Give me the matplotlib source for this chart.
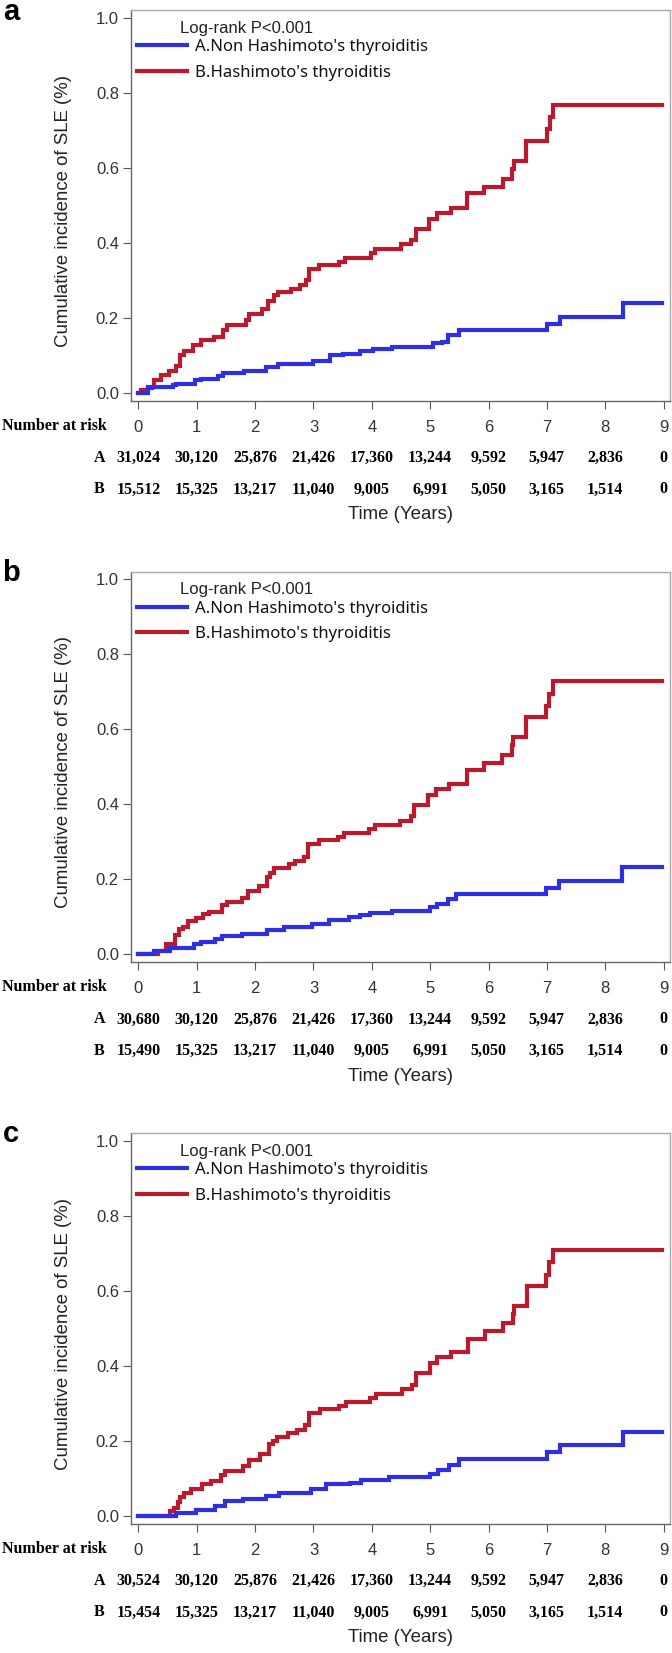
import matplotlib
matplotlib.use('Agg')
import matplotlib.pyplot as plt
from matplotlib.transforms import blended_transform_factory
from matplotlib.font_manager import FontProperties

# ---------------- data ----------------
years = [0, 1, 2, 3, 4, 5, 6, 7, 8, 9]
panel_letters = ['a', 'b', 'c']
logrank_text = 'Log-rank P<0.001'
label_A = "A.Non Hashimoto's thyroiditis"
label_B = "B.Hashimoto's thyroiditis"
ylabel_text = 'Cumulative incidence of SLE (%)'
xlabel_text = 'Time (Years)'
yticks = [0.0, 0.2, 0.4, 0.6, 0.8, 1.0]

# panel a
a_red_t = [0, 0.05, 0.16, 0.27, 0.38, 0.53, 0.64, 0.71, 0.79, 0.93, 1.08, 1.30, 1.45, 1.52, 1.85, 1.89,
           2.12, 2.22, 2.33, 2.40, 2.62, 2.77, 2.88, 2.93, 3.10, 3.43, 3.54, 3.98, 4.06, 4.50, 4.68, 4.75,
           4.98, 5.12, 5.35, 5.64, 5.93, 6.24, 6.41, 6.43, 6.65, 7.00, 7.06, 7.10, 8.98]
a_red_v = [0, 0.008, 0.015, 0.033, 0.046, 0.058, 0.07, 0.10, 0.111, 0.126, 0.141, 0.148, 0.166, 0.18, 0.193,
           0.209, 0.224, 0.245, 0.26, 0.268, 0.277, 0.286, 0.30, 0.33, 0.34, 0.348, 0.36, 0.371, 0.382, 0.395,
           0.408, 0.435, 0.464, 0.479, 0.493, 0.531, 0.547, 0.569, 0.595, 0.617, 0.67, 0.704, 0.735, 0.766, 0.766]
a_blue_t = [0, 0.16, 0.24, 0.60, 0.64, 0.97, 1.08, 1.37, 1.45, 1.81, 2.18, 2.40, 2.99, 3.28, 3.51, 3.80,
            4.02, 4.35, 5.05, 5.20, 5.30, 5.49, 7.00, 7.22, 8.30, 8.98]
a_blue_v = [0, 0.011, 0.015, 0.019, 0.024, 0.033, 0.037, 0.043, 0.052, 0.058, 0.067, 0.075, 0.084, 0.10,
            0.104, 0.11, 0.115, 0.122, 0.131, 0.135, 0.153, 0.166, 0.184, 0.202, 0.239, 0.239]
a_risk_A = ['31,024', '30,120', '25,876', '21,426', '17,360', '13,244', '9,592', '5,947', '2,836', '0']
a_risk_B = ['15,512', '15,325', '13,217', '11,040', '9,005', '6,991', '5,050', '3,165', '1,514', '0']

# panel b
b_red_t = [0, 0.33, 0.48, 0.63, 0.70, 0.77, 0.85, 0.99, 1.10, 1.21, 1.43, 1.51, 1.77, 1.88, 2.06, 2.21,
           2.26, 2.32, 2.58, 2.69, 2.83, 2.91, 3.09, 3.42, 3.53, 3.95, 4.05, 4.49, 4.67, 4.73, 4.97, 5.10,
           5.33, 5.63, 5.92, 6.23, 6.40, 6.42, 6.64, 6.99, 7.04, 7.10, 8.98]
b_red_v = [0, 0.009, 0.026, 0.05, 0.066, 0.073, 0.087, 0.097, 0.106, 0.113, 0.13, 0.139, 0.149, 0.168,
           0.182, 0.205, 0.215, 0.23, 0.239, 0.249, 0.258, 0.293, 0.303, 0.312, 0.322, 0.334, 0.343, 0.356,
           0.367, 0.398, 0.424, 0.441, 0.454, 0.491, 0.51, 0.53, 0.557, 0.578, 0.633, 0.661, 0.694, 0.728, 0.728]
b_blue_t = [0, 0.26, 0.55, 0.96, 1.07, 1.32, 1.43, 1.77, 2.21, 2.50, 2.98, 3.27, 3.61, 3.79, 3.97, 4.34,
            5.00, 5.11, 5.30, 5.45, 6.99, 7.21, 8.29, 8.98]
b_blue_v = [0, 0.009, 0.016, 0.026, 0.032, 0.04, 0.047, 0.054, 0.064, 0.071, 0.08, 0.092, 0.10, 0.104,
            0.109, 0.116, 0.125, 0.133, 0.147, 0.16, 0.177, 0.196, 0.232, 0.232]
b_risk_A = ['30,680', '30,120', '25,876', '21,426', '17,360', '13,244', '9,592', '5,947', '2,836', '0']
b_risk_B = ['15,490', '15,325', '13,217', '11,040', '9,005', '6,991', '5,050', '3,165', '1,514', '0']

# panel c
c_red_t = [0, 0.54, 0.61, 0.68, 0.72, 0.79, 0.90, 1.09, 1.24, 1.42, 1.49, 1.79, 1.90, 2.08, 2.23, 2.30,
           2.38, 2.56, 2.71, 2.85, 2.93, 3.11, 3.44, 3.55, 3.97, 4.07, 4.51, 4.69, 4.75, 4.99, 5.12, 5.35,
           5.65, 5.94, 6.25, 6.42, 6.44, 6.66, 6.99, 7.04, 7.10, 8.98]
c_red_v = [0, 0.011, 0.021, 0.035, 0.05, 0.059, 0.071, 0.083, 0.093, 0.107, 0.119, 0.131, 0.148, 0.164,
           0.19, 0.2, 0.209, 0.219, 0.228, 0.241, 0.274, 0.284, 0.293, 0.303, 0.314, 0.325, 0.338, 0.349,
           0.379, 0.406, 0.422, 0.436, 0.472, 0.491, 0.513, 0.537, 0.559, 0.613, 0.642, 0.677, 0.709, 0.709]
c_blue_t = [0, 0.65, 0.98, 1.31, 1.49, 1.79, 2.19, 2.41, 2.96, 3.22, 3.63, 3.81, 4.29, 4.99, 5.13, 5.32,
            5.49, 7.01, 7.23, 8.31, 8.98]
c_blue_v = [0, 0.007, 0.016, 0.026, 0.038, 0.045, 0.053, 0.059, 0.072, 0.083, 0.088, 0.096, 0.104, 0.112,
            0.121, 0.136, 0.152, 0.169, 0.188, 0.224, 0.224]
c_risk_A = ['30,524', '30,120', '25,876', '21,426', '17,360', '13,244', '9,592', '5,947', '2,836', '0']
c_risk_B = ['15,454', '15,325', '13,217', '11,040', '9,005', '6,991', '5,050', '3,165', '1,514', '0']

panels = [
    (a_red_t, a_red_v, a_blue_t, a_blue_v, a_risk_A, a_risk_B),
    (b_red_t, b_red_v, b_blue_t, b_blue_v, b_risk_A, b_risk_B),
    (c_red_t, c_red_v, c_blue_t, c_blue_v, c_risk_A, c_risk_B),
]

# ---------------- style ----------------
W, H = 672, 1653
BLUE = '#2e2ee3'
RED = '#bb1a2e'
SANS = ['Liberation Sans', 'DejaVu Sans']
SERIF = ['Liberation Serif', 'DejaVu Serif']
LEGEND_FONT = ['Noto Sans', 'DejaVu Sans']

fig = plt.figure(figsize=(W / 100, H / 100), dpi=100)

ax_left, ax_right = 130.7, 669.5
x0_px, px_per_year = 138.4, 58.35
ax_h = 390.7
zero_rows = [392.5, 954.0, 1515.5]   # pixel row of each panel's 0.0 tick

for i, (rt, rv, bt, bv, riskA, riskB) in enumerate(panels):
    y_zero = zero_rows[i]
    bottom_px = y_zero + 8.4
    ax = fig.add_axes([ax_left / W, 1 - bottom_px / H, (ax_right - ax_left) / W, ax_h / H])

    xlo = (ax_left - x0_px) / px_per_year
    xhi = (ax_right - x0_px) / px_per_year
    ax.set_xlim(xlo, xhi)
    ax.set_ylim(-0.0224, 1.0195)

    red_line, = ax.step(rt, rv, where='post', color=RED, lw=3.0, solid_joinstyle='miter')
    blue_line, = ax.step(bt, bv, where='post', color=BLUE, lw=3.0, solid_joinstyle='miter')

    ax.set_xticks(years)
    ax.set_yticks(yticks)
    ax.set_yticklabels(['%.1f' % v for v in yticks])
    for lab in ax.get_xticklabels() + ax.get_yticklabels():
        lab.set_family(SANS)
    ax.tick_params(axis='both', direction='out', length=5.5, width=0.8, color='#555555',
                   labelsize=12, labelcolor='#333333')
    ax.tick_params(axis='y', pad=3)
    ax.tick_params(axis='x', pad=8)

    for side in ['left', 'bottom']:
        ax.spines[side].set_color('#666666')
        ax.spines[side].set_linewidth(1.0)
    for side in ['top', 'right']:
        ax.spines[side].set_color('#a8a8a8')
        ax.spines[side].set_linewidth(1.0)

    # legend
    ax.text(0.0915, 1 - 18 / ax_h, logrank_text, transform=ax.transAxes, ha='left', va='center',
            fontsize=12, family=SANS, color='#222222')
    leg = ax.legend([blue_line, red_line], [label_A, label_B], loc='upper left',
                    bbox_to_anchor=(0.0111, 1 - 29 / ax_h), frameon=False, borderpad=0,
                    borderaxespad=0, handlelength=3.0, handletextpad=0.5, labelspacing=0.57,
                    prop=FontProperties(family=LEGEND_FONT, size=12))
    for t in leg.get_texts():
        t.set_color('#111111')

    # y label
    ax.text(-0.125, 0.4865, ylabel_text, transform=ax.transAxes, rotation=90, ha='center',
            va='center', fontsize=13.4, family=SANS, color='#222222')

    # panel letter
    fig.text(11 / W, 1 - (y_zero - 373) / H, panel_letters[i], ha='center', va='baseline',
             fontsize=21, fontweight='bold', family=SANS)

    # number at risk
    tr_fig_ax = blended_transform_factory(fig.transFigure, ax.transAxes)
    tr_data_ax = blended_transform_factory(ax.transData, ax.transAxes)
    ax.text(1.7 / W, -25 / ax_h, 'Number at risk', transform=tr_fig_ax, ha='left', va='center',
            fontsize=11.5, fontweight='bold', family=SERIF)
    ax.text(99.3 / W, -57 / ax_h, 'A', transform=tr_fig_ax, ha='center', va='center',
            fontsize=11.5, fontweight='bold', family=SERIF)
    ax.text(99.3 / W, -88.5 / ax_h, 'B', transform=tr_fig_ax, ha='center', va='center',
            fontsize=11.5, fontweight='bold', family=SERIF)
    for yr, na, nb in zip(years, riskA, riskB):
        ax.text(yr, -57 / ax_h, na, transform=tr_data_ax, ha='center', va='center',
                fontsize=11.5, fontweight='bold', family=SERIF)
        ax.text(yr, -88.5 / ax_h, nb, transform=tr_data_ax, ha='center', va='center',
                fontsize=11.5, fontweight='bold', family=SERIF)

    ax.text((400.8 - ax_left) / (ax_right - ax_left), -114 / ax_h, xlabel_text, transform=ax.transAxes,
            ha='center', va='center', fontsize=13.4, family=SANS, color='#222222')

fig.savefig('out.png', dpi=100)
